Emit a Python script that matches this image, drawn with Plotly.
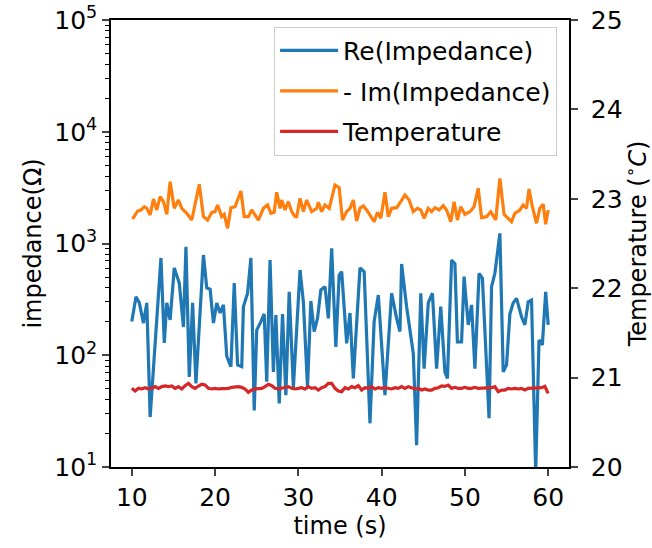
import numpy as np
import plotly.graph_objects as go

# ---------------- data ----------------
time_re = [10.0, 10.5, 10.9, 11.4, 11.8, 12.2, 13.5, 13.9, 14.2, 14.6, 15.1, 15.7, 16.2, 16.5, 16.9,
           17.3, 17.7, 18.6, 19.0, 19.4, 19.8, 20.2, 20.6, 21.0, 21.4, 21.9, 22.3, 22.7, 23.2, 23.4,
           23.9, 24.3, 24.7, 25.0, 25.5, 25.9, 26.2, 26.6, 27.0, 27.3, 27.7, 28.1, 28.5, 28.9, 29.4,
           30.2, 30.6, 31.1, 31.5, 31.9, 32.3, 32.7, 33.2, 33.6, 34.0, 34.5, 34.9, 35.2, 35.8, 36.2,
           36.6, 37.4, 37.9, 38.6, 39.1, 39.6, 40.4, 41.2, 41.8, 42.2, 42.4, 43.0, 43.8, 44.2, 44.7,
           45.1, 45.6, 46.1, 46.6, 47.1, 47.6, 47.9, 48.4, 48.8, 49.1, 49.6, 49.9, 50.4, 50.8, 51.2,
           51.7, 52.1, 52.9, 53.2, 53.6, 54.2, 54.6, 55.0, 55.4, 55.8, 56.2, 56.8, 57.2, 57.6, 58.0,
           58.5, 58.9, 59.3, 59.7, 60.0]
re_imp = [200, 334, 294, 194, 294, 28, 742, 129, 294, 207, 604, 443, 179, 935, 64,
          294, 56, 789, 400, 390, 194, 294, 239, 282, 98, 79, 443, 82, 79, 272,
          359, 742, 32, 168, 200, 234, 58, 712, 71, 229, 37, 234, 44, 370, 51,
          579, 301, 52, 306, 163, 214, 384, 411, 214, 906, 119, 523, 560, 128, 239,
          62, 604, 560, 24.6, 200, 346, 44, 359, 214, 163, 656, 272, 104, 15.7, 359,
          76, 294, 359, 76, 272, 71, 62, 712, 656, 132, 132, 505, 187, 282, 76,
          541, 489, 27.3, 411, 541, 1233, 71, 82, 234, 294, 323, 221, 187, 301, 312,
          9, 137, 124, 370, 187]

time_im = [10.0, 10.2, 10.7, 11.1, 11.5, 11.8, 12.2, 12.6, 13.0, 13.4, 13.8, 14.2, 14.6, 15.1, 15.6,
           16.0, 16.6, 17.2, 18.1, 18.6, 19.1, 19.6, 20.0, 20.3, 20.8, 21.1, 21.5, 21.9, 22.4, 23.1,
           23.5, 24.0, 24.4, 24.8, 25.2, 25.8, 26.3, 26.7, 27.1, 27.4, 27.8, 28.0, 28.4, 28.8, 29.2,
           29.6, 29.8, 30.2, 30.6, 31.0, 31.6, 32.2, 32.4, 32.8, 33.2, 33.7, 34.4, 34.9, 35.3, 35.8,
           36.2, 36.6, 37.0, 37.4, 37.8, 38.2, 38.6, 39.1, 39.5, 39.9, 40.4, 40.8, 41.2, 41.8, 42.3,
           42.8, 43.3, 43.8, 44.3, 44.7, 45.1, 45.6, 46.0, 46.4, 46.9, 47.4, 47.8, 48.3, 48.7, 49.1,
           49.5, 50.0, 50.6, 51.1, 51.6, 52.0, 52.6, 53.1, 53.7, 54.2, 54.7, 55.2, 55.6, 56.0, 56.6,
           57.0, 57.4, 57.7, 58.1, 58.6, 59.0, 59.4, 59.7, 60.0]
im_imp = [1703, 1703, 1954, 1995, 2134, 2065, 1799, 2500, 1995, 2625, 2366, 1824, 3573, 2065, 2449,
          2065, 1862, 1622, 3388, 1738, 1622, 1901, 1927, 2213, 1738, 1824, 1368, 2091, 2134, 2953,
          1738, 1738, 1995, 1799, 1622, 2065, 2213, 1862, 1901, 2873, 2065, 2449, 1995, 2366, 1927,
          1738, 1738, 2537, 1927, 2449, 1927, 2065, 2338, 1927, 2213, 2065, 3336, 3155, 1622, 1927,
          2065, 2449, 1590, 2065, 2166, 1995, 1799, 1567, 1901, 1682, 2873, 1738, 2065, 2091, 2366,
          2718, 2449, 1927, 2065, 1995, 1682, 2065, 1927, 2091, 1995, 2180, 1995, 1567, 2366, 1622,
          2134, 1824, 1927, 2134, 3120, 1703, 1738, 1927, 1622, 3830, 1824, 1682, 1567, 1862, 1995,
          2213, 2065, 3075, 2134, 1517, 2065, 2244, 1486, 1995]

time_temp = list(np.linspace(10, 60, 126))
temperature = [20.880, 20.850, 20.880, 20.873, 20.887, 20.873, 20.880, 20.899, 20.880, 20.899,
               20.906, 20.899, 20.906, 20.880, 20.899, 20.873, 20.910, 20.936, 20.899, 20.880,
               20.906, 20.925, 20.917, 20.880, 20.873, 20.880, 20.873, 20.873, 20.880, 20.880,
               20.891, 20.899,
               20.899, 20.891, 20.873, 20.835, 20.861, 20.873, 20.880, 20.880, 20.899, 20.925,
               20.910, 20.880, 20.873, 20.880, 20.887, 20.899, 20.880, 20.873, 20.880, 20.887,
               20.873, 20.899, 20.880, 20.887, 20.861, 20.887, 20.899, 20.936, 20.936, 20.880,
               20.850,
               20.843, 20.887, 20.873, 20.899, 20.887, 20.910, 20.861, 20.887, 20.880, 20.899,
               20.873, 20.887, 20.880, 20.887, 20.880, 20.873, 20.887, 20.880, 20.899, 20.880,
               20.899, 20.887, 20.873, 20.880, 20.861, 20.873, 20.861, 20.861, 20.880, 20.887,
               20.906,
               20.902, 20.917, 20.880, 20.891, 20.880, 20.880, 20.891, 20.880, 20.880, 20.891,
               20.880, 20.880, 20.887, 20.880, 20.887, 20.899, 20.843, 20.861, 20.861, 20.880,
               20.873, 20.880, 20.873, 20.880, 20.861, 20.880, 20.880, 20.880, 20.880, 20.887,
               20.902, 20.824]

x_ticks = [10, 20, 30, 40, 50, 60]
y_ticks = [10, 100, 1000, 10000, 100000]
y_ticktext = ["10<sup>1</sup>", "10<sup>2</sup>", "10<sup>3</sup>", "10<sup>4</sup>", "10<sup>5</sup>"]
y2_ticks = [20, 21, 22, 23, 24, 25]

# ---------------- figure ----------------
FONT = "DejaVu Sans"
FS_TITLE = 24
FS_TICK = 25
FS_LEG = 25

fig = go.Figure()
fig.add_trace(go.Scatter(x=time_re, y=re_imp, mode="lines", name="Re(Impedance)",
                         line=dict(color="#1f77b4", width=3.2), legendgroup="a"))
fig.add_trace(go.Scatter(x=time_im, y=im_imp, mode="lines", name="- Im(Impedance)",
                         line=dict(color="#ff7f0e", width=3.2), legendgroup="b"))
fig.add_trace(go.Scatter(x=time_temp, y=temperature, mode="lines", name="Temperature",
                         line=dict(color="#d62728", width=3.2), yaxis="y2", legendgroup="c"))

minor_vals = [m * 10 ** e for e in range(1, 5) for m in range(2, 10)]

fig.update_layout(
    width=652, height=548,
    margin=dict(l=111, r=83, t=20, b=81),
    paper_bgcolor="white", plot_bgcolor="white",
    font=dict(family=FONT, size=FS_TICK, color="black"),
    showlegend=True,
    legend=dict(
        x=0.974, y=0.985, xanchor="right", yanchor="top",
        bgcolor="rgba(255,255,255,0.8)", bordercolor="#cccccc", borderwidth=1,
        font=dict(family=FONT, size=FS_LEG, color="black"),
        tracegroupgap=5, traceorder="grouped", itemwidth=58,
    ),
    xaxis=dict(
        range=[7.5, 62.5], tickvals=x_ticks, ticks="outside", ticklen=7, tickwidth=1.5,
        showline=True, linecolor="black", linewidth=1.5, mirror=True,
        showgrid=False, zeroline=False, automargin=False,
        title=dict(text="time (s)", font=dict(size=FS_TITLE), standoff=6),
        tickfont=dict(size=FS_TICK),
    ),
    yaxis=dict(
        type="log", range=[1, 5], tickvals=y_ticks, ticktext=y_ticktext,
        ticks="outside", ticklen=7, tickwidth=1.5,
        minor=dict(tickvals=minor_vals, ticks="outside", ticklen=4, tickwidth=1, tickcolor="black",
                   showgrid=False),
        showline=True, linecolor="black", linewidth=1.5,
        showgrid=False, zeroline=False, automargin=False,
        title=dict(text="impedance(Ω)", font=dict(size=FS_TITLE), standoff=6),
        tickfont=dict(size=FS_TICK),
    ),
    yaxis2=dict(
        overlaying="y", side="right", range=[20, 25], tickvals=y2_ticks,
        ticks="outside", ticklen=7, tickwidth=1.5, ticklabelstandoff=8,
        showline=True, linecolor="black", linewidth=1.5,
        showgrid=False, zeroline=False, automargin=False,
        title=dict(text="Temperature (<sup>∘</sup><i>C</i>)", font=dict(size=FS_TITLE), standoff=8),
        tickfont=dict(size=FS_TICK),
    ),
)

fig.write_html("out.html")
